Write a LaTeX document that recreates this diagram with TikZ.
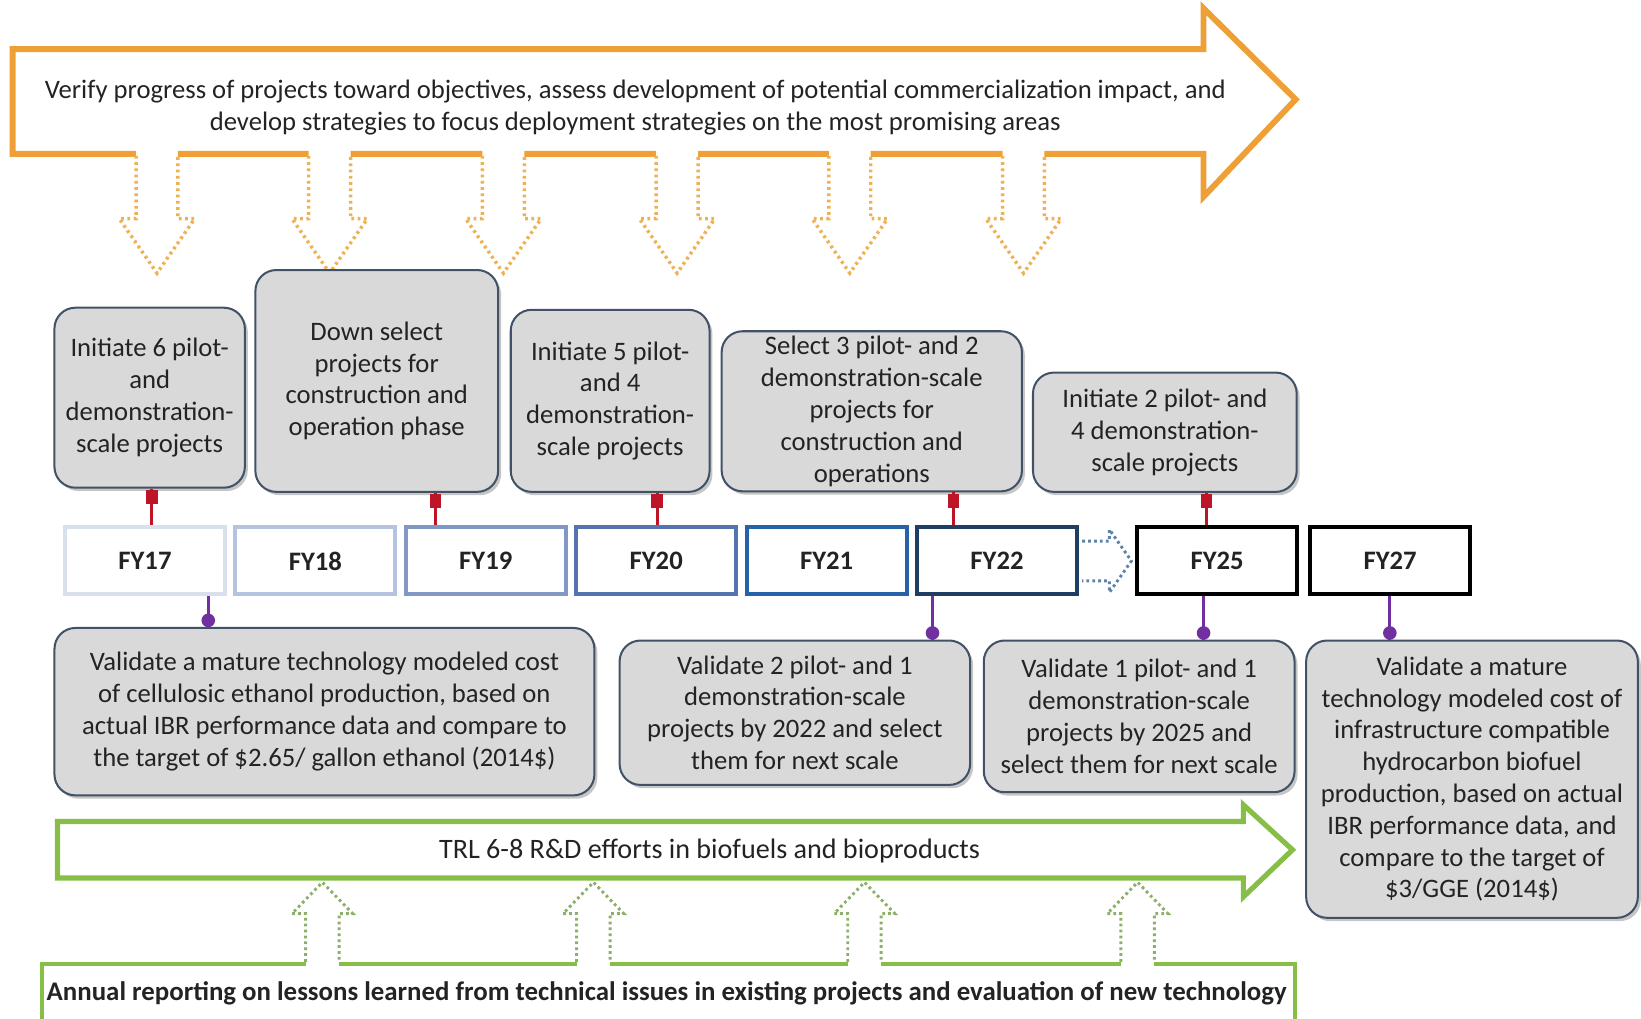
\documentclass[tikz,border=0pt]{standalone}
\usepackage{fontspec}
\setmainfont{Carlito}
\usepackage{xcolor}
\usetikzlibrary{positioning,shadows,calc}

\definecolor{arroworange}{RGB}{238,160,55}
\definecolor{dotorange}{RGB}{238,178,85}
\definecolor{arrowgreen}{RGB}{134,190,72}
\definecolor{dotgreen}{RGB}{140,175,105}
\definecolor{boxfill}{RGB}{217,217,217}
\definecolor{boxline}{RGB}{66,82,102}
\definecolor{textgray}{RGB}{35,35,35}
\definecolor{pinred}{RGB}{190,20,40}
\definecolor{pinpurple}{RGB}{112,48,160}
\definecolor{fyA}{RGB}{216,224,238}
\definecolor{fyB}{RGB}{180,196,222}
\definecolor{fyC}{RGB}{130,152,196}
\definecolor{fyD}{RGB}{84,116,176}
\definecolor{fyE}{RGB}{38,98,168}
\definecolor{fyF}{RGB}{30,62,100}
\definecolor{skipblue}{RGB}{95,130,170}

\begin{document}
\begin{tikzpicture}[
    x=0.02cm, y=-0.02cm,
    font=\fontsize{14.5}{17.3}\selectfont, text=textgray,
    task/.style={rectangle, rounded corners=0.4cm, draw=boxline, line width=1.1pt, fill=boxfill, align=center, inner sep=0pt,
        drop shadow={shadow xshift=1.6pt, shadow yshift=-1.8pt, opacity=0.45}},
    year/.style={rectangle, draw, line width=2.2pt, fill=white, minimum width=3.06cm, minimum height=1.28cm, inner sep=0pt,
        font=\fontsize{14.5}{17.3}\selectfont\bfseries},
    bigarrow/.style={draw=arroworange, line width=3.2pt, line join=miter},
    downdot/.style={draw=dotorange, line width=1.9pt, dash pattern=on 1.5pt off 1.9pt},
    trlarrow/.style={draw=arrowgreen, line width=2.8pt, line join=miter},
    updot/.style={draw=dotgreen, line width=1.6pt, dash pattern=on 1.5pt off 1.7pt},
    skiparrow/.style={draw=skipblue, line width=1.6pt, dash pattern=on 1.5pt off 1.7pt},
    redpin/.style={draw=pinred, line width=1.7pt},
    redcap/.style={fill=pinred, minimum width=0.22cm, minimum height=0.26cm, inner sep=0pt},
    purplepin/.style={draw=pinpurple, line width=1.7pt},
    purpledot/.style={circle, fill=pinpurple, minimum size=0.26cm, inner sep=0pt}
]
    \useasboundingbox (0,0) rectangle (1568,973);

    % Review arrow
    \draw[bigarrow] (130,147) -- (12,147) -- (12,47) -- (1150,47) -- (1150,8) -- (1238,95) -- (1150,188) -- (1150,147) -- (998,147)
        (958,147) -- (832,147) (792,147) -- (667,147) (627,147) -- (501,147) (461,147) -- (335,147) (295,147) -- (170,147);
    \node[align=center] (review) at (607,103) {Verify progress of projects toward objectives, assess development of potential commercialization impact, and\\
        develop strategies to focus deployment strategies on the most promising areas};
    \draw[downdot] (130,149) -- ++(0,60) -- ++(-16,0) -- ++(36,52) -- ++(36,-52) -- ++(-16,0) -- ++(0,-60);
    \draw[downdot] (295,149) -- ++(0,60) -- ++(-16,0) -- ++(36,52) -- ++(36,-52) -- ++(-16,0) -- ++(0,-60);
    \draw[downdot] (461,149) -- ++(0,60) -- ++(-16,0) -- ++(36,52) -- ++(36,-52) -- ++(-16,0) -- ++(0,-60);
    \draw[downdot] (627,149) -- ++(0,60) -- ++(-16,0) -- ++(36,52) -- ++(36,-52) -- ++(-16,0) -- ++(0,-60);
    \draw[downdot] (792,149) -- ++(0,60) -- ++(-16,0) -- ++(36,52) -- ++(36,-52) -- ++(-16,0) -- ++(0,-60);
    \draw[downdot] (958,149) -- ++(0,60) -- ++(-16,0) -- ++(36,52) -- ++(36,-52) -- ++(-16,0) -- ++(0,-60);

    % Project starts
    \node[task, minimum width=3.64cm, minimum height=3.44cm] (start17) at (143,380) {Initiate 6 pilot-\\and\\demonstration-\\scale projects};
    \node[task, minimum width=4.64cm, minimum height=4.24cm] (select19) at (360,364) {Down select\\projects for\\construction and\\operation phase};
    \node[task, minimum width=3.8cm, minimum height=3.48cm] (start20) at (583,383) {Initiate 5 pilot-\\and 4\\demonstration-\\scale projects};
    \node[task, minimum width=5.74cm, minimum height=3.06cm] (select22) at (833,393) {Select 3 pilot- and 2\\demonstration-scale\\projects for\\construction and\\operations};
    \node[task, minimum width=5.04cm, minimum height=2.28cm] (start25) at (1113,413) {Initiate 2 pilot- and\\4 demonstration-\\scale projects};

    % Timeline
    \node[year, draw=fyA] (fy17) at (138.5,536) {FY17};
    \node[year, draw=fyB, right=0.12cm of fy17] (fy18) {FY18};
    \node[year, draw=fyC, right=0.12cm of fy18] (fy19) {FY19};
    \node[year, draw=fyD, right=0.12cm of fy19] (fy20) {FY20};
    \node[year, draw=fyE, right=0.12cm of fy20] (fy21) {FY21};
    \node[year, draw=fyF, right=0.12cm of fy21] (fy22) {FY22};
    \node[year, draw=black, right=1.07cm of fy22] (fy25) {FY25};
    \node[year, draw=black, right=0.17cm of fy25] (fy27) {FY27};
    \draw[skiparrow] ($(fy22.east)+(3,-19)$) -- ++(26,0) -- ++(0,-11) -- ++(21,30) -- ++(-21,30) -- ++(0,-11) -- ++(-26,0);

    % Validations
    \node[task, minimum width=10.32cm, minimum height=3.2cm] (check17) at (310,680) {Validate a mature technology modeled cost\\of cellulosic ethanol production, based on\\actual IBR performance data and compare to\\the target of \$2.65/ gallon ethanol (2014\$)};
    \node[task, minimum width=6.7cm, minimum height=2.76cm] (check22) at (759.5,681) {Validate 2 pilot- and 1\\demonstration-scale\\projects by 2022 and select\\them for next scale};
    \node[task, minimum width=5.94cm, minimum height=2.9cm] (check25) at (1088.5,684.5) {Validate 1 pilot- and 1\\demonstration-scale\\projects by 2025 and\\select them for next scale};
    \node[task, minimum width=6.34cm, minimum height=5.3cm] (check27) at (1406.5,744.5) {Validate a mature\\technology modeled cost of\\infrastructure compatible\\hydrocarbon biofuel\\production, based on actual\\IBR performance data, and\\compare to the target of\\\$3/GGE (2014\$)};

    % Pins
    \path (145,0) coordinate (r1) (416,0) coordinate (r2) (628,0) coordinate (r3) (911,0) coordinate (r4) (1153,0) coordinate (r5);
    \path (199,0) coordinate (p1) (891,0) coordinate (p2) (1150,0) coordinate (p3) (1328,0) coordinate (p4);
    \draw[redpin] (r1 |- start17.south) node[redcap, below] {} -- (r1 |- fy17.north);
    \draw[redpin] (r2 |- select19.south) node[redcap, below] {} -- (r2 |- fy19.north);
    \draw[redpin] (r3 |- start20.south) node[redcap, below] {} -- (r3 |- fy20.north);
    \draw[redpin] (r4 |- select22.south) node[redcap, below] {} -- (r4 |- fy22.north);
    \draw[redpin] (r5 |- start25.south) node[redcap, below] {} -- (r5 |- fy25.north);
    \draw[purplepin] (p1 |- fy17.south) -- (p1 |- check17.north) node[purpledot, above, yshift=-1pt] {};
    \draw[purplepin] (p2 |- fy22.south) -- (p2 |- check22.north) node[purpledot, above, yshift=-1pt] {};
    \draw[purplepin] (p3 |- fy25.south) -- (p3 |- check25.north) node[purpledot, above, yshift=-1pt] {};
    \draw[purplepin] (p4 |- fy27.south) -- (p4 |- check27.north) node[purpledot, above, yshift=-1pt] {};

    % R&D arrow
    \draw[trlarrow] (55,839) -- (55,785) -- (1188,785) -- (1188,769) -- (1235,812) -- (1188,857) -- (1188,839) -- cycle;
    \node[font=\fontsize{15.3}{18}\selectfont] (trl) at (678,813) {TRL 6-8 R\&D efforts in biofuels and bioproducts};

    % Annual reporting
    \draw[trlarrow, line width=2.2pt] (40,990) -- (40,921) -- (292,921) (324,921) -- (551,921) (583,921) -- (810,921)
        (842,921) -- (1071,921) (1103,921) -- (1237,921) -- (1237,990);
    \node[font=\fontsize{14.6}{17.3}\selectfont\bfseries] (annual) at (637,949) {Annual reporting on lessons learned from technical issues in existing projects and evaluation of new technology};
    \draw[updot] (292,919) -- ++(0,-46) -- ++(-13,0) -- ++(29,-30) -- ++(29,30) -- ++(-13,0) -- ++(0,46);
    \draw[updot] (551,919) -- ++(0,-46) -- ++(-13,0) -- ++(29,-30) -- ++(29,30) -- ++(-13,0) -- ++(0,46);
    \draw[updot] (810,919) -- ++(0,-46) -- ++(-13,0) -- ++(29,-30) -- ++(29,30) -- ++(-13,0) -- ++(0,46);
    \draw[updot] (1071,919) -- ++(0,-46) -- ++(-13,0) -- ++(29,-30) -- ++(29,30) -- ++(-13,0) -- ++(0,46);
\end{tikzpicture}
\end{document}
